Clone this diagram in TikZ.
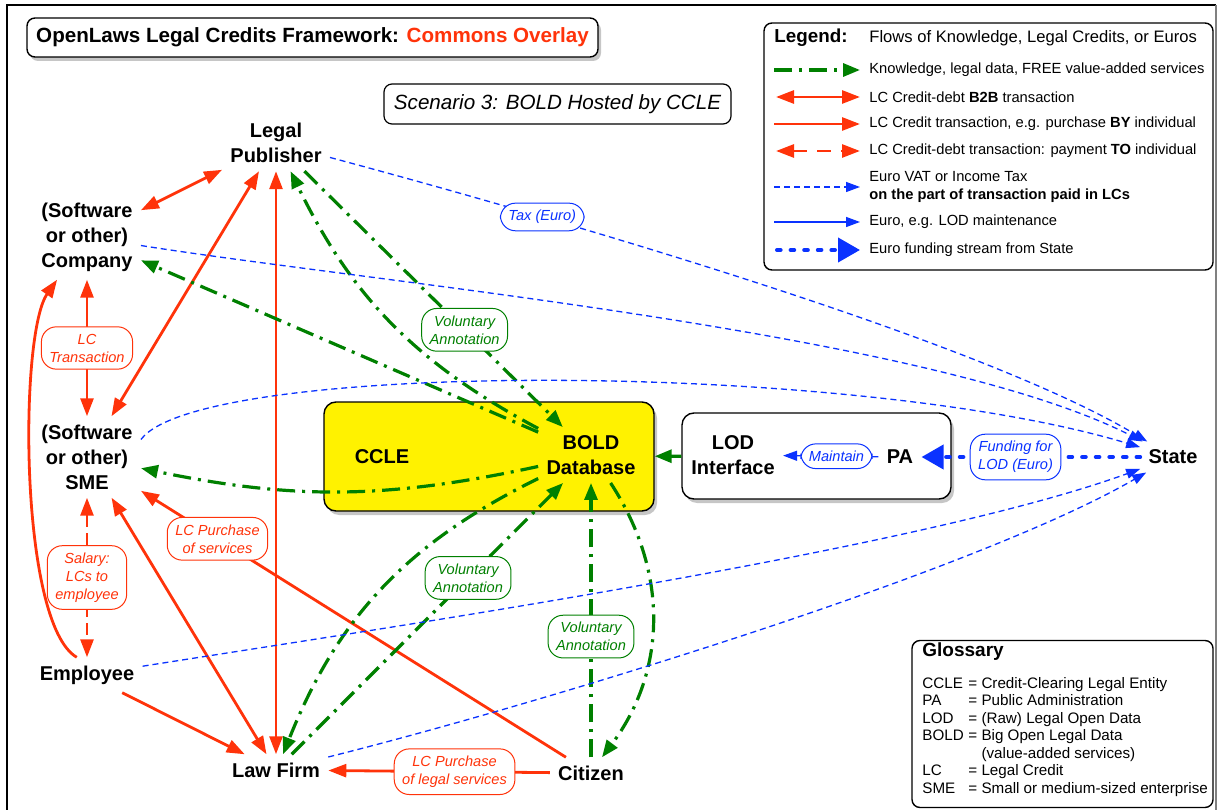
\documentclass[tikz,border=0pt]{standalone}
\usepackage{fontspec}
\setmainfont{Liberation Sans}
\usetikzlibrary{arrows.meta, shadows}

\definecolor{lcred}{RGB}{255,51,10}
\definecolor{kgreen}{RGB}{0,128,0}
\definecolor{eblue}{RGB}{10,50,255}

\begin{document}
\begin{tikzpicture}[x=0.5pt, y=0.5pt,
    party node/.style={align=center, inner sep=4pt, font=\fontsize{10}{12.5}\selectfont\bfseries},
    big box/.style={draw, line width=0.7pt, rounded corners=6pt,
      drop shadow={shadow xshift=1.5pt, shadow yshift=-2pt, opacity=0.45}},
    tag/.style={draw, solid, fill=white, line width=0.5pt, rounded corners=7.5pt, align=center,
      inner xsep=4pt, inner ysep=3.5pt, font=\fontsize{7.3}{9}\selectfont\itshape},
    red tag/.style={tag, draw=lcred, text=lcred},
    green tag/.style={tag, draw=kgreen, text=kgreen},
    blue tag/.style={tag, draw=eblue, text=eblue},
    credit/.style={draw=lcred, line width=1.4pt, >={Triangle[length=9pt,width=6.5pt]}},
    knowledge/.style={draw=kgreen, line width=1.6pt, dash pattern=on 9pt off 3.5pt on 1.5pt off 3.5pt,
      ->, >={Triangle[length=8.5pt,width=6.5pt]}},
    tax/.style={draw=eblue, line width=0.65pt, dash pattern=on 3pt off 2pt, ->, >={Triangle[length=7pt,width=5pt]}},
    euro/.style={draw=eblue, line width=0.65pt, ->, >={Triangle[length=7pt,width=5pt]}},
    funding/.style={draw=eblue, line width=2pt, line cap=round, dash pattern=on 1.8pt off 5pt,
      ->, >={Triangle[length=11pt,width=12pt]}},
    legend text/.style={anchor=west, inner sep=0pt, align=left, font=\fontsize{7.35}{9}\selectfont}]

  \useasboundingbox (0,0) rectangle (1218,809);

  % frame
  \draw[line width=0.8pt] (7,-10) -- (7,804) -- (1216,804);
  \draw[gray, line width=0.6pt] (1216,804) -- (1216,-10);

  % title and scenario
  \node[draw, line width=0.7pt, rounded corners=4pt, fill=white,
    drop shadow={shadow xshift=1.5pt, shadow yshift=-2pt, opacity=0.45},
    minimum width=285.5pt, minimum height=19.5pt, font=\fontsize{10.3}{12}\selectfont\bfseries]
    (title) at (312.5,771.5) {OpenLaws Legal Credits Framework: \textcolor{lcred}{Commons Overlay}};
  \node[draw, line width=0.6pt, rounded corners=4pt, minimum width=173.5pt, minimum height=20pt,
    font=\fontsize{10.3}{12}\selectfont\itshape] (scenario) at (557.5,705) {Scenario 3: BOLD Hosted by CCLE};

  % boxes
  \node[big box, fill=yellow, minimum width=165pt, minimum height=54.5pt] (ccle) at (489,352.5) {};
  \node[big box, fill=white, minimum width=134.5pt, minimum height=43pt] (lodbox) at (816.5,353) {};

  % parties
  \node[party node] (pub) at (276,666) {Legal\\Publisher};
  \node[party node] (comp) at (87,572) {(Software\\or other)\\Company};
  \node[party node] (sme) at (87,352) {(Software\\or other)\\SME};
  \node[party node] (emp) at (87,134) {Employee};
  \node[party node] (law) at (276,39) {Law Firm};
  \node[party node] (cit) at (591,36) {Citizen};
  \node[party node] (cclet) at (382,352) {CCLE};
  \node[party node] (bold) at (591,354) {BOLD\\Database};
  \node[party node] (lod) at (733,354) {LOD\\Interface};
  \node[party node] (pa) at (900,352) {PA};
  \node[party node] (state) at (1173,352) {State};

  % legal credits
  \path (comp) edge[credit, <->] (pub)
        edge[credit, <->] node[red tag] {LC\\Transaction} (sme)
    (sme) edge[credit, <->] (pub)
        edge[credit, <->, dash pattern=on 6pt off 3pt] node[red tag] {Salary:\\LCs to\\employee} (emp)
    (law) edge[credit, <->] (pub)
        edge[credit, <->] (sme)
    (emp) edge[credit, ->] (law)
    (cit) edge[credit, ->] node[red tag, pos=0.82] {LC Purchase\\of services} (sme)
        edge[credit, ->] node[red tag, pos=0.43] {LC Purchase\\of legal services} (law);
  \path (emp.120) edge[credit, ->, out=150, in=235, looseness=0.45] (comp);

  % knowledge
  \path (bold) edge[knowledge] (comp)
        edge[knowledge, bend left=12] (sme)
        edge[knowledge, bend left=18] (pub)
        edge[knowledge, bend right=21] (law)
        edge[knowledge, bend left=35] (cit)
    (pub) edge[knowledge] node[green tag, pos=0.62] {Voluntary\\Annotation} (bold)
    (law) edge[knowledge] node[green tag, pos=0.65] {Voluntary\\Annotation} (bold)
    (cit) edge[knowledge] node[green tag, pos=0.44] {Voluntary\\Annotation} (bold)
    (lodbox) edge[knowledge, solid] (ccle);

  % euros
  \path (pub) edge[tax, out=-15, in=149, looseness=0.6] node[blue tag, pos=0.28] {Tax (Euro)} (state)
    (comp) edge[tax, out=-9, in=153, looseness=0.6] (state)
    (emp) edge[tax, out=9, in=-160, looseness=0.6] (state)
    (law) edge[tax, out=14, in=-150, looseness=0.6] (state);
  \draw[tax] (sme.18) .. controls (200,449) and (850,449) .. (state);
  \path (pa) edge[euro] node[blue tag, pos=0.44] {Maintain} (lod)
    (state) edge[funding] node[blue tag, pos=0.57] {Funding for\\LOD (Euro)} (pa);

  % legend
  \draw[line width=0.7pt, rounded corners=4pt] (764,786) rectangle (1213,539);
  \node[anchor=west, inner sep=0pt, font=\fontsize{9.4}{11}\selectfont\bfseries] (legend) at (774,771) {Legend:};
  \node[legend text, font=\fontsize{8.3}{10}\selectfont] (flows) at (869,771) {Flows of Knowledge, Legal Credits, or Euros};
  \node[legend text] (l1) at (869,739) {Knowledge, legal data, FREE value-added services};
  \node[legend text] (l2) at (869,712) {LC Credit-debt \textbf{B2B} transaction};
  \node[legend text] (l3) at (869,685) {LC Credit transaction, e.g. purchase \textbf{BY} individual};
  \node[legend text] (l4) at (869,658) {LC Credit-debt transaction: payment \textbf{TO} individual};
  \node[legend text] (l5) at (869,622) {Euro VAT or Income Tax\\\textbf{on the part of transaction paid in LCs}};
  \node[legend text] (l6) at (869,587) {Euro, e.g. LOD maintenance};
  \node[legend text] (l7) at (869,559) {Euro funding stream from State};
  \draw[knowledge] ([xshift=-47.5pt]l1.west) -- ([xshift=-4.5pt]l1.west);
  \draw[credit, <->] ([xshift=-46.5pt]l2.west) -- ([xshift=-4.5pt]l2.west);
  \draw[credit, ->] ([xshift=-47.5pt]l3.west) -- ([xshift=-4.5pt]l3.west);
  \draw[credit, <->, dash pattern=on 7pt off 5pt] ([xshift=-46.5pt]l4.west) -- ([xshift=-4.5pt]l4.west);
  \draw[tax] ([xshift=-47.5pt]l5.west) -- ([xshift=-4.5pt]l5.west);
  \draw[euro] ([xshift=-47.5pt]l6.west) -- ([xshift=-4.5pt]l6.west);
  \draw[funding] ([xshift=-46pt]l7.west) -- ([xshift=-4.5pt]l7.west);

  % glossary
  \draw[line width=0.7pt, rounded corners=4pt] (912,168.5) rectangle (1213,1.5);
  \node[anchor=west, inner sep=0pt, font=\fontsize{9.5}{11}\selectfont\bfseries] (glossary) at (922,157) {Glossary};
  \node[anchor=north west, inner sep=0pt, align=left, font=\fontsize{7.6}{8.75}\selectfont] (terms) at (922,132)
    {\makebox[23pt][l]{CCLE}= Credit-Clearing Legal Entity\\
     \makebox[23pt][l]{PA}= Public Administration\\
     \makebox[23pt][l]{LOD}= (Raw) Legal Open Data\\
     \makebox[23pt][l]{BOLD}= Big Open Legal Data\\
     \makebox[23pt][l]{}\phantom{= }(value-added services)\\
     \makebox[23pt][l]{LC}= Legal Credit\\
     \makebox[23pt][l]{SME}= Small or medium-sized enterprise};
\end{tikzpicture}
\end{document}
